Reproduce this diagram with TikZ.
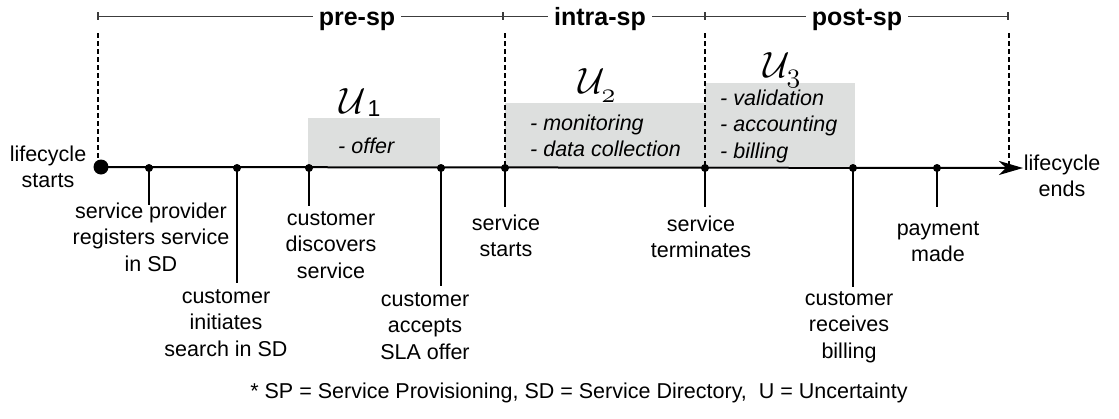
\documentclass[tikz,border=0pt]{standalone}
\usepackage{fontspec}
\usepackage{graphicx}
\setmainfont{Liberation Sans}
\usetikzlibrary{arrows.meta}
\definecolor{boxgray}{RGB}{221,223,222}
\definecolor{hdrline}{RGB}{60,60,60}
\begin{document}
\begin{tikzpicture}[x=1pt,y=-1pt,
  lbl/.style={anchor=north,align=center,inner sep=0pt,font=\fontsize{21.5}{26.5}\selectfont},
  boxtxt/.style={anchor=north west,align=left,inner sep=0pt,font=\fontsize{21.5}{26.5}\selectfont\itshape},
  hdr/.style={anchor=base,inner xsep=6pt,inner ysep=0pt,font=\fontsize{25}{25}\selectfont\bfseries},
  hline/.style={draw=hdrline,line width=1pt},
  tick/.style={draw=hdrline,line width=1.5pt},
  dashv/.style={line width=1.5pt,dash pattern=on 5pt off 3pt},
  axisline/.style={line width=2pt,-{Stealth[length=24pt,width=14pt,inset=7pt]}},
  stem/.style={line width=2pt},
  dot/.style={circle,fill=black,inner sep=0pt,minimum size=8pt},
  bigdot/.style={circle,fill=black,inner sep=0pt,minimum size=15pt},
  ulab/.style={anchor=base west,inner sep=0pt,font=\fontsize{20.74}{24}\selectfont},
  boxfill/.style={fill=boxgray}
]
\useasboundingbox (0,0) rectangle (1119,418);

% grey boxes
\fill[boxfill] (308,118) rectangle (440,166);
\fill[boxfill] (505,103) rectangle (705,167);
\fill[boxfill] (705,83) rectangle (855,166);

% header
\coordinate (t0) at (98,16);
\coordinate (t1) at (503,16);
\coordinate (t2) at (705,16);
\coordinate (t3) at (1008,16);
\node[hdr] (pre) at (357,25) {pre-sp};
\node[hdr] (intra) at (600,25) {intra-sp};
\node[hdr] (post) at (857,25) {post-sp};
\draw[hline] (t0) -- (t0 -| pre.west);
\draw[hline] (pre.east |- t1) -- (t1);
\draw[hline] (t1) -- (t1 -| intra.west);
\draw[hline] (intra.east |- t2) -- (t2);
\draw[hline] (t2) -- (t2 -| post.west);
\draw[hline] (post.east |- t3) -- (t3);
\foreach \t in {t0,t1,t2,t3} \draw[tick] (\t) ++(0,-4) -- ++(0,8);

% dashed verticals
\coordinate (v0) at (98,33);
\coordinate (v0e) at (98,160);
\coordinate (v1) at (505,33);
\coordinate (v2) at (705,33);
\coordinate (v3) at (1009,33);
\coordinate (v3e) at (1009,166);

% axis and dots
\node[bigdot] (start) at (101,167) {};
\coordinate (axend) at (1023,168);
\node[dot] (d1) at (149,168) {};
\node[dot] (d2) at (237,168) {};
\node[dot] (d3) at (309,168) {};
\node[dot] (d4) at (441,168) {};
\node[dot] (d5) at (505,168) {};
\node[dot] (d6) at (705,168) {};
\node[dot] (d7) at (853,168) {};
\node[dot] (d8) at (937,168) {};

\draw[dashv] (v0) -- (v0e);
\draw[dashv] (v1) -- (d5.center);
\draw[dashv] (v2) -- (d6.center);
\draw[dashv] (v3) -- (v3e);
\draw[axisline] (start.center) -- (axend);

% stems
\coordinate (e1) at (149,205);
\coordinate (e2) at (237,283);
\coordinate (e3) at (309,206);
\coordinate (e4) at (441,286);
\coordinate (e5) at (505,207);
\coordinate (e6) at (705,207);
\coordinate (e7) at (853,287);
\coordinate (e8) at (937,207);
\foreach \i in {1,...,8} \draw[stem] (d\i.center) -- (e\i);

% labels
\node[lbl] (l0) at (48,142.5) {\strut lifecycle\\starts};
\node[lbl] (l9) at (1062,151.5) {\strut lifecycle\\ends};
\node[lbl] (l1) at (151,199.5) {\strut service provider\\registers service\\in SD};
\node[lbl] (l2) at (226,284.5) {\strut customer\\initiates\\search in SD};
\node[lbl] (l3) at (331,206.5) {\strut customer\\discovers\\service};
\node[lbl] (l4) at (425,287.5) {\strut customer\\accepts\\SLA offer};
\node[lbl] (l5) at (506,211.5) {\strut service\\starts};
\node[lbl] (l6) at (701,212.5) {\strut service\\terminates};
\node[lbl] (l7) at (849,286.5) {\strut customer\\receives\\billing};
\node[lbl] (l8) at (938,216.5) {\strut payment\\made};

% box texts
\node[boxtxt] (b1) at (338,134.5) {\strut - offer};
\node[boxtxt] (b2) at (530,111.5) {\strut - monitoring\\- data collection};
\node[boxtxt] (b3) at (720,86.5) {\strut - validation\\- accounting\\- billing};

% uncertainty labels
\node[ulab] (u1) at (339,113) {\scalebox{1.76}{$\mathcal{U}$}\kern2pt\raisebox{-3pt}{\fontsize{23}{23}\selectfont 1}};
\node[ulab] (u2) at (578,93) {\scalebox{1.76}{$\mathcal{U}$}\kern-3pt\raisebox{-9pt}{\scalebox{1.35}{$\mathnormal{2}$}}};
\node[ulab] (u3) at (763,77) {\scalebox{1.76}{$\mathcal{U}$}\kern-3pt\raisebox{-5pt}{\scalebox{1.35}{$\mathnormal{3}$}}};

% footnote
\node[anchor=base,inner sep=0pt,font=\fontsize{21.5}{26.5}\selectfont] (fn) at (579,398)
  {* SP = Service Provisioning, SD = Service Directory,\ \ U = Uncertainty};
\end{tikzpicture}
\end{document}
